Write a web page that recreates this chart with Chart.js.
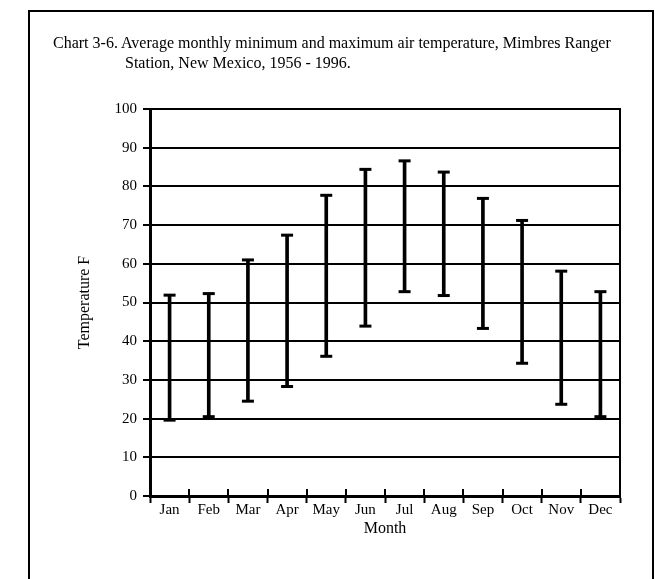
<!DOCTYPE html>
<html>
<head>
<meta charset="utf-8">
<script src="https://cdn.jsdelivr.net/npm/chart.js@4.4.1/dist/chart.umd.min.js"></script>
<style>
  body { margin: 0; background: #fff; }
  #wrap { position: relative; width: 655px; height: 579px; overflow: hidden; }
  #frame { position: absolute; left: 28px; top: 10px; width: 626px; height: 620px;
           box-sizing: border-box; border: 2px solid #000; }
  #title { position: absolute; left: 53px; top: 33px; width: 600px;
           font: 16px "Liberation Serif", "Times New Roman", serif; line-height: 20px;
           color: #000; padding-left: 72px; text-indent: -72px; white-space: nowrap; }
  canvas { position: absolute; left: 0; top: 0; }
</style>
</head>
<body>
<div id="wrap">
  <canvas id="tempChart" width="655" height="579"></canvas>
  <div id="frame"></div>
  <div id="title">Chart 3-6. Average monthly minimum and maximum air temperature, Mimbres Ranger<br>Station, New Mexico, 1956 - 1996.</div>
</div>
<script>
// Data
const months = ['Jan', 'Feb', 'Mar', 'Apr', 'May', 'Jun', 'Jul', 'Aug', 'Sep', 'Oct', 'Nov', 'Dec'];
const minTemp = [19.6, 20.5, 24.5, 28.3, 36.1, 43.9, 52.8, 51.8, 43.3, 34.3, 23.7, 20.5];
const maxTemp = [51.9, 52.3, 61.0, 67.4, 77.7, 84.4, 86.6, 83.7, 76.9, 71.2, 58.1, 52.8];

// Tick marks that cross the axis lines (minor y ticks, x category dividers)
const crossTicks = {
    id: 'crossTicks',
    afterDraw(chart) {
        const { ctx, scales: { x, y } } = chart;
        ctx.save();
        ctx.strokeStyle = '#000';
        ctx.lineWidth = 2;
        for (let i = 1; i < months.length; i++) {
            const px = Math.round((x.getPixelForValue(i - 1) + x.getPixelForValue(i)) / 2);
            ctx.beginPath();
            ctx.moveTo(px, y.bottom - 7);
            ctx.lineTo(px, y.bottom);
            ctx.stroke();
        }
        y.ticks.forEach(t => {
            if (t.value % 10 !== 0) {
                const py = y.getPixelForValue(t.value);
                ctx.beginPath();
                ctx.moveTo(y.right - 4, py);
                ctx.lineTo(y.right + 7, py);
                ctx.stroke();
            }
        });
        ctx.restore();
    }
};

function renderChart() {
    Chart.defaults.font.family = '"Liberation Serif", "Times New Roman", serif';
    Chart.defaults.font.size = 15;
    Chart.defaults.color = '#000';

    const ctx = document.getElementById('tempChart').getContext('2d');
    new Chart(ctx, {
        type: 'bar',
        data: {
            labels: months,
            datasets: [
                {
                    type: 'line',
                    data: minTemp,
                    showLine: false,
                    pointStyle: 'line',
                    pointRadius: 6,
                    borderWidth: 3,
                    borderColor: '#000'
                },
                {
                    type: 'line',
                    data: maxTemp,
                    showLine: false,
                    pointStyle: 'line',
                    pointRadius: 6,
                    borderWidth: 3,
                    borderColor: '#000'
                },
                {
                    data: months.map((m, i) => [minTemp[i], maxTemp[i]]),
                    backgroundColor: '#000',
                    borderWidth: 0,
                    barThickness: 3
                }
            ]
        },
        options: {
            responsive: false,
            animation: false,
            layout: { padding: { left: 60, right: 35, top: 109, bottom: 41 } },
            plugins: {
                legend: { display: false },
                tooltip: { enabled: false }
            },
            scales: {
                x: {
                    offset: true,
                    grid: {
                        offset: true,
                        drawOnChartArea: false,
                        tickLength: 7,
                        tickWidth: 2,
                        tickColor: '#000'
                    },
                    border: { color: '#000', width: 3 },
                    ticks: { padding: -2, maxRotation: 0 },
                    title: { display: true, text: 'Month', font: { size: 16 }, padding: 0 },
                    afterFit: s => { s.height = 42; }
                },
                y: {
                    min: 0,
                    max: 100,
                    ticks: {
                        stepSize: 5,
                        padding: 6,
                        callback: v => (v % 10 === 0 ? v : '')
                    },
                    grid: {
                        color: c => (c.tick && c.tick.value % 10 === 0 ? '#000' : 'rgba(0,0,0,0)'),
                        lineWidth: 2,
                        tickLength: 7,
                        tickWidth: 2
                    },
                    border: { color: '#000', width: 3 },
                    title: { display: true, text: 'Temperature F', font: { size: 16 }, padding: { top: 15, bottom: 0 } },
                    afterFit: s => { s.width = 90; }
                },
                y2: {
                    position: 'right',
                    min: 0,
                    max: 100,
                    grid: { display: false },
                    ticks: { display: false },
                    border: { color: '#000', width: 2 },
                    afterFit: s => { s.width = 0; }
                }
            }
        },
        plugins: [crossTicks]
    });
}

document.addEventListener('DOMContentLoaded', renderChart);
</script>
</body>
</html>
